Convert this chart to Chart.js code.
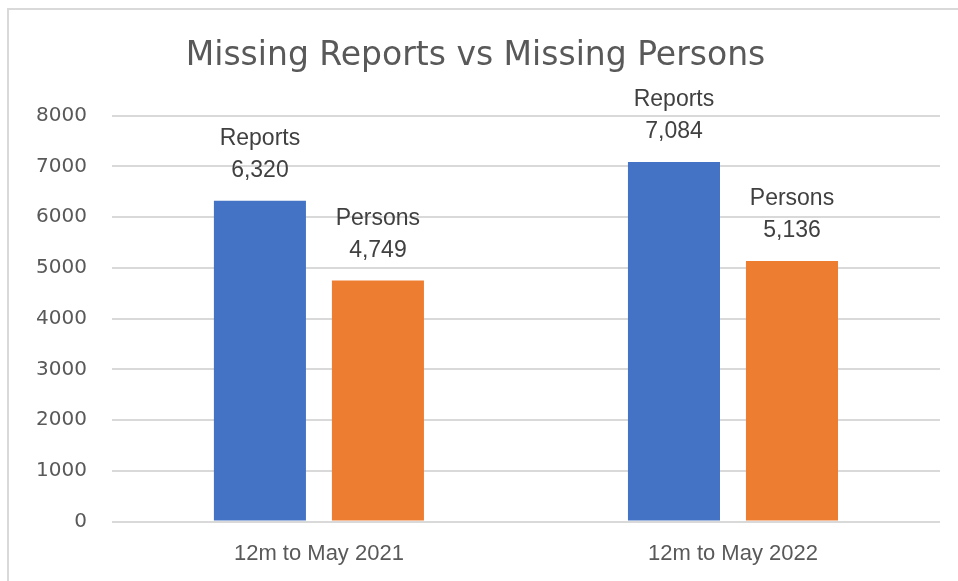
<!DOCTYPE html>
<html>
<head>
<meta charset="utf-8">
<script src="https://cdn.jsdelivr.net/npm/chart.js@4"></script>
<style>
  html, body { margin: 0; padding: 0; background: #fff; }
  #wrap { position: relative; width: 958px; height: 581px; overflow: hidden; }
  #frame { position: absolute; left: 7px; top: 8px; width: 980px; height: 600px; border: 2px solid #d9d9d9; }
  canvas { position: absolute; left: 0; top: 0; }
</style>
</head>
<body>
<div id="wrap">
  <div id="frame"></div>
  <canvas id="missingChart" width="958" height="581"></canvas>
</div>
<script>
const categories = ["12m to May 2021", "12m to May 2022"];
const seriesNames = ["Reports", "Persons"];
const reports = [6320, 7084];
const persons = [4749, 5136];
const yTicks = [0, 1000, 2000, 3000, 4000, 5000, 6000, 7000, 8000];

const sansFont = "'Liberation Sans', Arial, sans-serif";
const wideFont = "'DejaVu Sans', sans-serif";
const textColor = "#595959";

// labels above bars: series name then value
const barLabels = {
  id: "barLabels",
  afterDatasetsDraw(chart) {
    const ctx = chart.ctx;
    ctx.save();
    ctx.fillStyle = "#404040";
    ctx.font = "23px " + sansFont;
    ctx.textAlign = "center";
    ctx.textBaseline = "middle";
    chart.data.datasets.forEach((ds, i) => {
      const meta = chart.getDatasetMeta(i);
      meta.data.forEach((bar, j) => {
        ctx.fillText(ds.data[j].toLocaleString("en-US"), bar.x, bar.y - 30);
        ctx.fillText(ds.label, bar.x, bar.y - 62);
      });
    });
    ctx.restore();
  }
};

const ctx = document.getElementById("missingChart").getContext("2d");
new Chart(ctx, {
  type: "bar",
  data: {
    labels: categories,
    datasets: [
      { label: seriesNames[0], data: reports, backgroundColor: "#4472c4" },
      { label: seriesNames[1], data: persons, backgroundColor: "#ed7d31" }
    ]
  },
  options: {
    responsive: false,
    animation: false,
    layout: { padding: { left: 11, right: 18, top: 29, bottom: -5 } },
    datasets: { bar: { categoryPercentage: 0.57, barPercentage: 0.78 } },
    plugins: {
      legend: { display: false },
      tooltip: { enabled: false },
      title: {
        display: true,
        text: "Missing Reports vs Missing Persons",
        color: textColor,
        font: { family: wideFont, size: 33, weight: "normal" },
        padding: { top: 8, bottom: 39 }
      }
    },
    scales: {
      x: {
        grid: { display: false, drawTicks: false },
        border: { display: false },
        ticks: { color: textColor, font: { family: sansFont, size: 22 }, padding: 19 }
      },
      y: {
        min: 0,
        max: 8000,
        afterBuildTicks(axis) { axis.ticks = yTicks.map(v => ({ value: v })); },
        grid: { color: "#d9d9d9", lineWidth: 2, drawTicks: false },
        border: { display: false },
        ticks: {
          color: textColor,
          font: { family: wideFont, size: 20 },
          padding: 25,
          callback: v => String(v)
        }
      }
    }
  },
  plugins: [barLabels]
});
</script>
</body>
</html>
